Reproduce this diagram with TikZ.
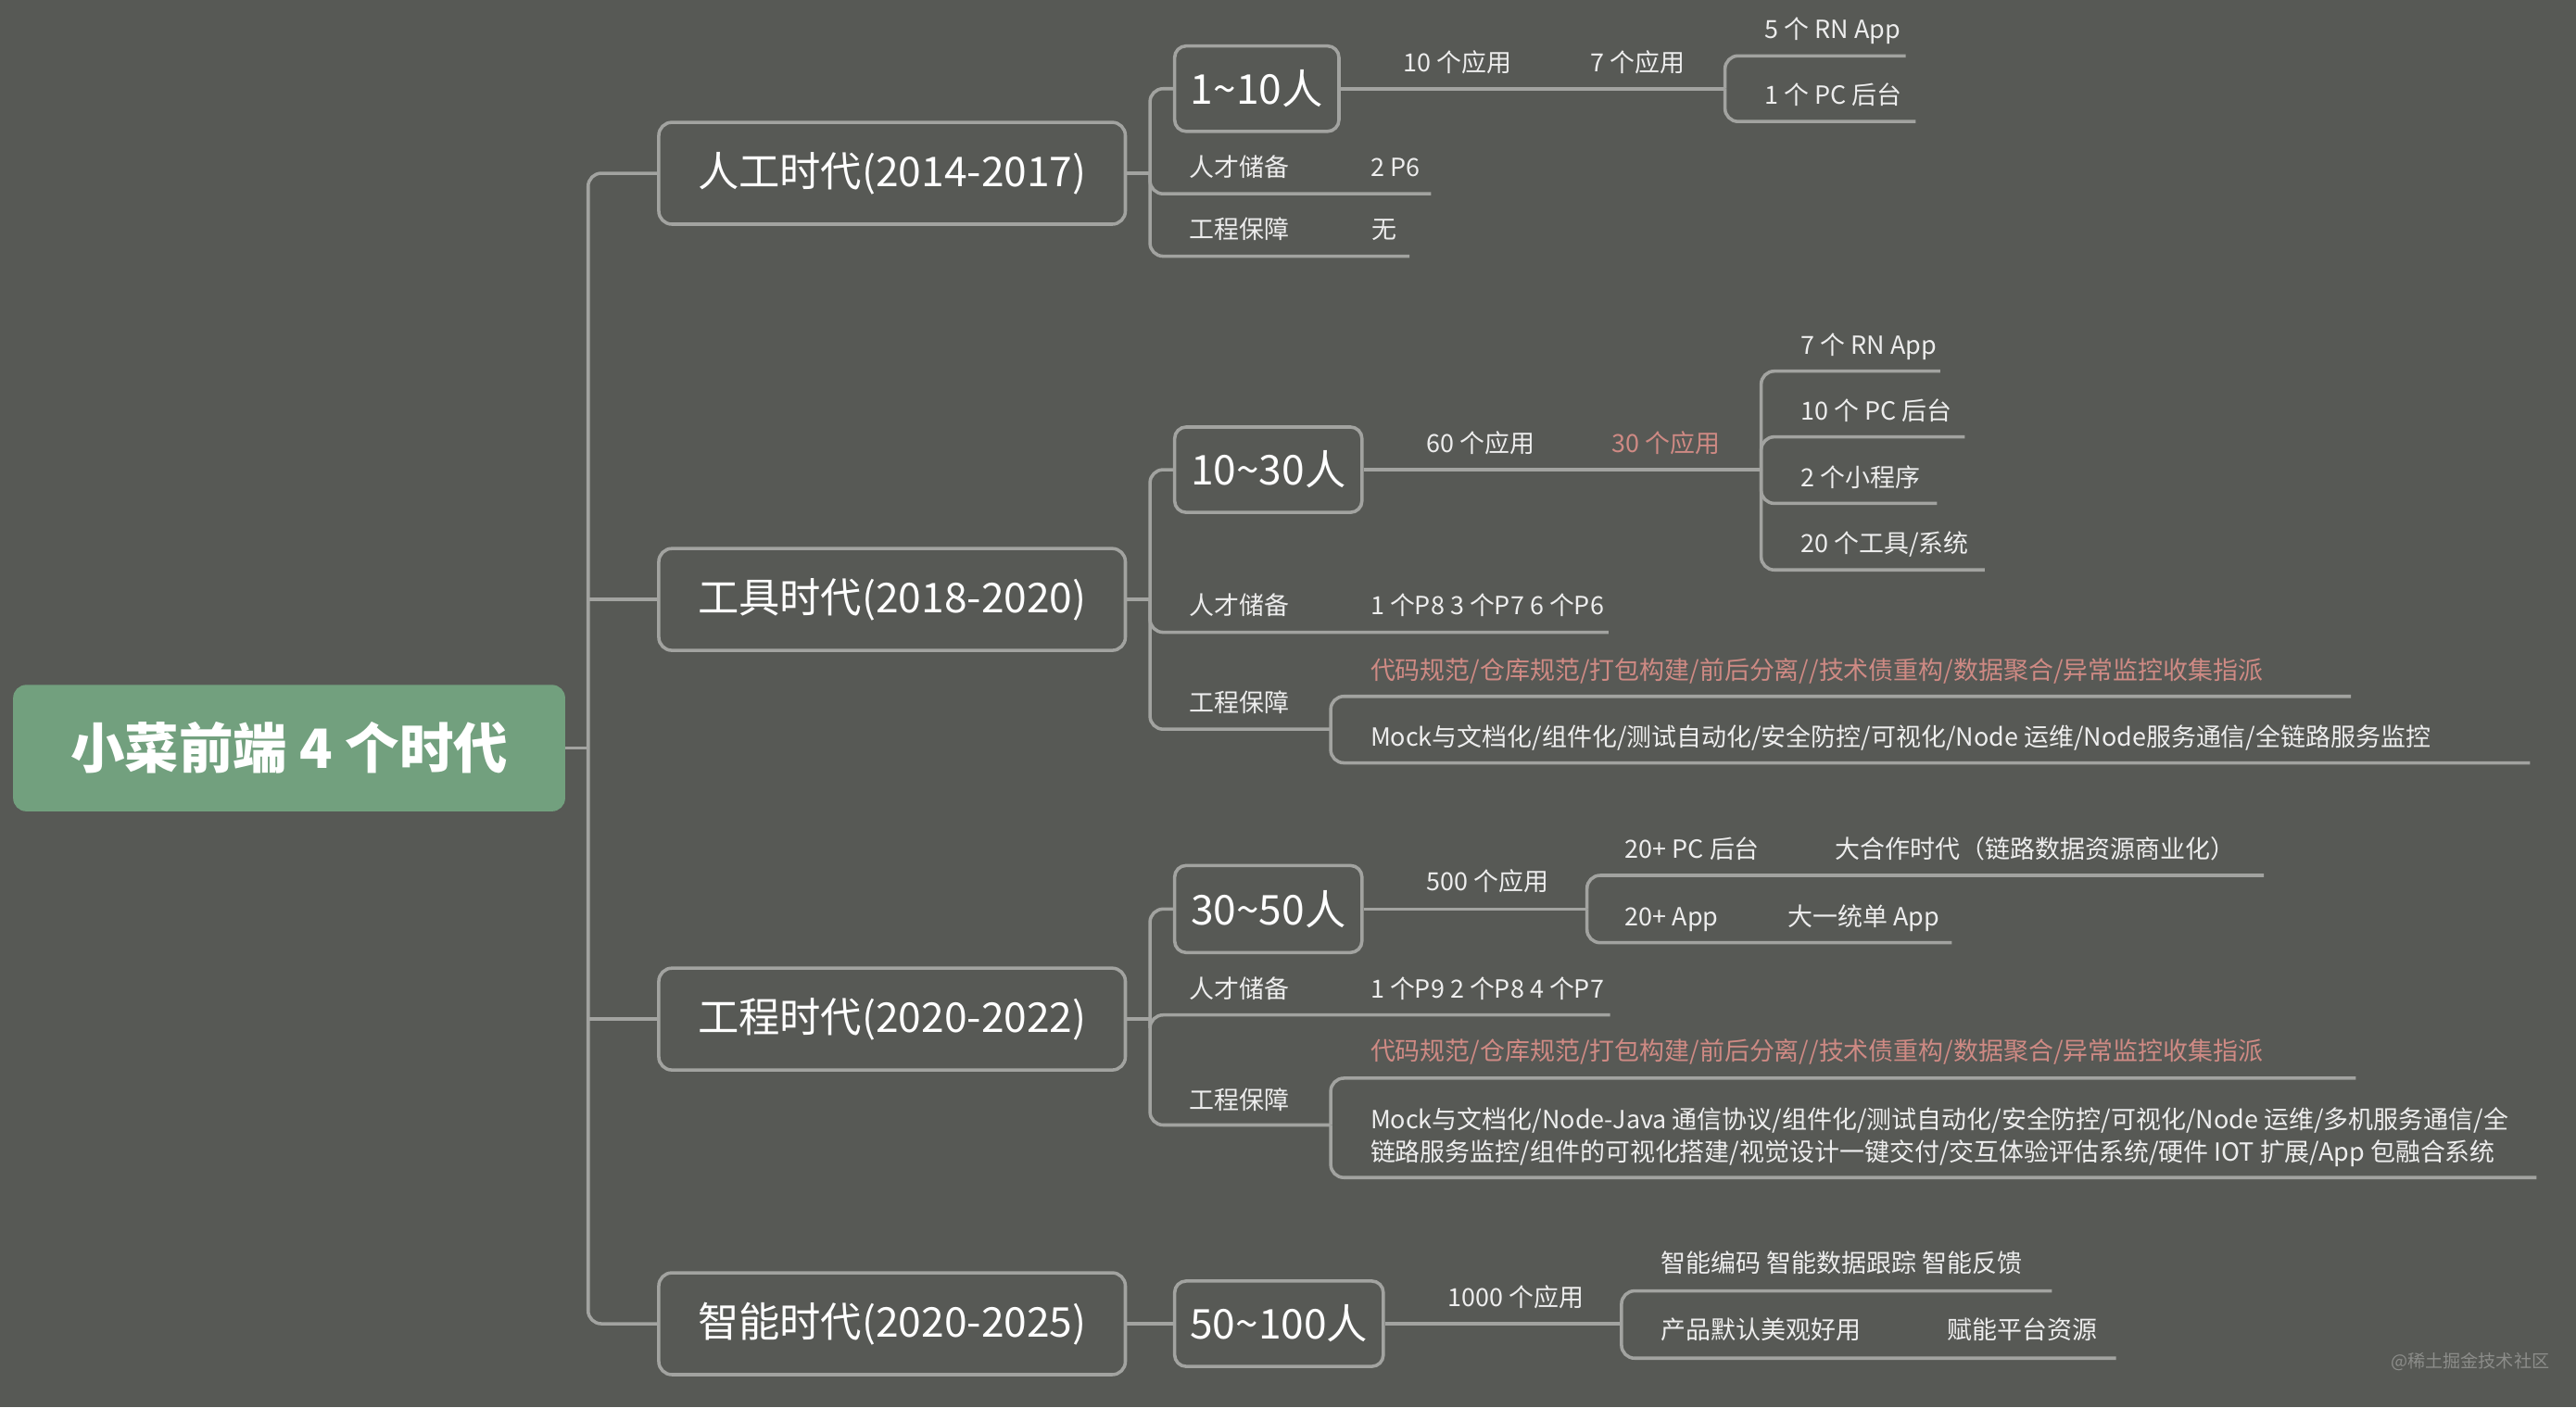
\documentclass[tikz,border=0pt]{standalone}
\usepackage{fontspec}
\setmainfont{Noto Sans CJK SC}
\definecolor{bgc}{HTML}{575955}
\definecolor{lnc}{HTML}{A2A3A0}
\definecolor{rootc}{HTML}{72A07E}
\definecolor{redc}{HTML}{CF8A84}
\definecolor{txc}{HTML}{EDEDED}
\definecolor{wmc}{HTML}{8C8D8A}
\begin{document}
\begin{tikzpicture}[x=1pt,y=-1pt,
  conn/.style={draw=lnc, line width=2pt, rounded corners=8pt},
  rootbox/.style={fill=rootc, rounded corners=8pt, minimum width=336pt, minimum height=77pt, inner sep=0pt, text=white, font=\fontsize{33}{38}\selectfont\bfseries},
  erabox/.style={draw=lnc, line width=2pt, rounded corners=8pt, minimum width=284pt, minimum height=62pt, inner sep=0pt, text=white, font=\fontsize{25}{30}\selectfont},
  teambox/.style={draw=lnc, line width=2pt, rounded corners=7pt, minimum height=52pt, inner sep=0pt, text=white, font=\fontsize{25}{30}\selectfont},
  leaf/.style={anchor=west, inner sep=0pt, text height=13.4pt, text depth=2.4pt, text=txc, font=\fontsize{15.2}{20}\selectfont},
  hot/.style={leaf, text=redc},
  multi/.style={anchor=north west, inner sep=0pt, align=left, text=txc, font=\fontsize{15.2}{20}\selectfont},
  wm/.style={anchor=west, inner sep=0pt, text=wmc, font=\fontsize{10.8}{13}\selectfont}
]
\useasboundingbox (0,0) rectangle (1568,857);
\fill[bgc] (0,0) rectangle (1568,857);

% root and eras
\node[rootbox] (root) at (176,455.5) {小菜前端 4 个时代};
\node[erabox] (e1) at (543,105.5) {人工时代(2014-2017)};
\node[erabox] (e2) at (543,365) {工具时代(2018-2020)};
\node[erabox] (e3) at (543,620.5) {工程时代(2020-2022)};
\node[erabox] (e4) at (543,806) {智能时代(2020-2025)};

% spine
\coordinate (spR) at (358,455.5);
\coordinate (spA) at (358,105.5);
\coordinate (spB) at (358,365);
\coordinate (spC) at (358,620.5);
\coordinate (spD) at (358,806);
\draw[conn] (root.east) -- (spR);
\draw[conn] (e1.west) -- (spA) -- (spD) -- (e4.west);
\draw[conn] (spB) -- (e2.west);
\draw[conn] (spC) -- (e3.west);

% ===== Branch A =====
\node[teambox, minimum width=100pt] (t1) at (765,54) {1\textasciitilde10人};
\coordinate (ja) at (700,105.5);
\coordinate (ua1) at (871,118);
\coordinate (ua2) at (858,156);
\draw[conn] (e1.east) -- (ja);
\draw[conn] (ja) |- (t1.west);
\draw[conn] (ja) |- (ua1);
\draw[conn] (ja) |- (ua2);
\node[leaf] (a1) at (724,102) {人才储备};
\node[leaf] (a2) at (834,102) {2 P6};
\node[leaf] (a3) at (724,140) {工程保障};
\node[leaf] (a4) at (835,140) {无};
\coordinate (ka) at (1050,54);
\coordinate (ua3) at (1160,34);
\coordinate (ua4) at (1166,74);
\draw[conn] (t1.east) -- (ka);
\draw[conn] (ka) |- (ua3);
\draw[conn] (ka) |- (ua4);
\node[leaf] (a5) at (854,38) {10 个应用};
\node[leaf] (a6) at (968,38) {7 个应用};
\node[leaf] (a7) at (1074,18) {5 个 RN App};
\node[leaf] (a8) at (1074,58) {1 个 PC 后台};

% ===== Branch B =====
\node[teambox, minimum width=114pt] (t2) at (772,286) {10\textasciitilde30人};
\coordinate (jb) at (700,365);
\coordinate (ub1) at (979,385);
\coordinate (gb) at (810,444);
\draw[conn] (e2.east) -- (jb);
\draw[conn] (jb) |- (t2.west);
\draw[conn] (jb) |- (ub1);
\draw[conn] (jb) |- (gb);
\node[leaf] (b1) at (724,369) {人才储备};
\node[leaf] (b2) at (834,369) {1 个P8 3 个P7 6 个P6};
\node[leaf] (b3) at (724,428) {工程保障};
\coordinate (ub2) at (1431,424);
\coordinate (ub3) at (1540,464.5);
\draw[conn] (gb) |- (ub2);
\draw[conn] (gb) |- (ub3);
\node[hot] (b4) at (834,408) {代码规范/仓库规范/打包构建/前后分离//技术债重构/数据聚合/异常监控收集指派};
\node[leaf] (b5) at (834,449) {Mock与文档化/组件化/测试自动化/安全防控/可视化/Node 运维/Node服务通信/全链路服务监控};
\coordinate (kb) at (1072,286);
\coordinate (ub4) at (1181,226);
\coordinate (ub5) at (1196,266);
\coordinate (ub6) at (1179,306.5);
\coordinate (ub7) at (1208,347);
\draw[conn] (t2.east) -- (kb);
\draw[conn] (kb) |- (ub4);
\draw[conn] (kb) |- (ub5);
\draw[conn] (kb) |- (ub6);
\draw[conn] (kb) |- (ub7);
\node[leaf] (b6) at (868,270) {60 个应用};
\node[hot] (b7) at (981,270) {30 个应用};
\node[leaf] (b8) at (1096,210) {7 个 RN App};
\node[leaf] (b9) at (1096,250) {10 个 PC 后台};
\node[leaf] (b10) at (1096,291) {2 个小程序};
\node[leaf] (b11) at (1096,331) {20 个工具/系统};

% ===== Branch C =====
\node[teambox, minimum width=114pt, minimum height=53pt] (t3) at (772,553.5) {30\textasciitilde50人};
\coordinate (jc) at (700,620.5);
\coordinate (uc1) at (980,618);
\coordinate (gc) at (810,685);
\draw[conn] (e3.east) -- (jc);
\draw[conn] (jc) |- (t3.west);
\draw[conn] (jc) |- (uc1);
\draw[conn] (jc) |- (gc);
\node[leaf] (c1) at (724,602) {人才储备};
\node[leaf] (c2) at (834,602) {1 个P9 2 个P8 4 个P7};
\node[leaf] (c3) at (724,670) {工程保障};
\coordinate (uc2) at (1434,656.5);
\coordinate (uc3) at (1544,717);
\draw[conn] (gc) |- (uc2);
\draw[conn] (gc) |- (uc3);
\node[hot] (c4) at (834,640) {代码规范/仓库规范/打包构建/前后分离//技术债重构/数据聚合/异常监控收集指派};
\node[multi] (c5) at (834,674) {Mock与文档化/Node-Java 通信协议/组件化/测试自动化/安全防控/可视化/Node 运维/多机服务通信/全\\链路服务监控/组件的可视化搭建/视觉设计一键交付/交互体验评估系统/硬件 IOT 扩展/App 包融合系统};
\coordinate (kc) at (966,553.5);
\coordinate (uc4) at (1378,533);
\coordinate (uc5) at (1188,574);
\draw[conn] (t3.east) -- (kc);
\draw[conn] (kc) |- (uc4);
\draw[conn] (kc) |- (uc5);
\node[leaf] (c6) at (868,537) {500 个应用};
\node[leaf] (c7) at (989,517) {20+ PC 后台};
\node[leaf] (c8) at (1117,517) {大合作时代（链路数据资源商业化）};
\node[leaf] (c9) at (989,558) {20+ App};
\node[leaf] (c10) at (1088,558) {大一统单 App};

% ===== Branch D =====
\node[teambox, minimum width=127pt] (t4) at (778.5,806) {50\textasciitilde100人};
\draw[conn] (e4.east) -- (t4.west);
\coordinate (kd) at (987,806);
\coordinate (ud1) at (1249,786);
\coordinate (ud2) at (1288,827);
\draw[conn] (t4.east) -- (kd);
\draw[conn] (kd) |- (ud1);
\draw[conn] (kd) |- (ud2);
\node[leaf] (d1) at (881,790) {1000 个应用};
\node[leaf] (d2) at (1011,769) {智能编码 智能数据跟踪 智能反馈};
\node[leaf] (d3) at (1011,810) {产品默认美观好用};
\node[leaf] (d4) at (1185,810) {赋能平台资源};

\node[wm] (wm1) at (1455,829) {@稀土掘金技术社区};
\end{tikzpicture}
\end{document}
